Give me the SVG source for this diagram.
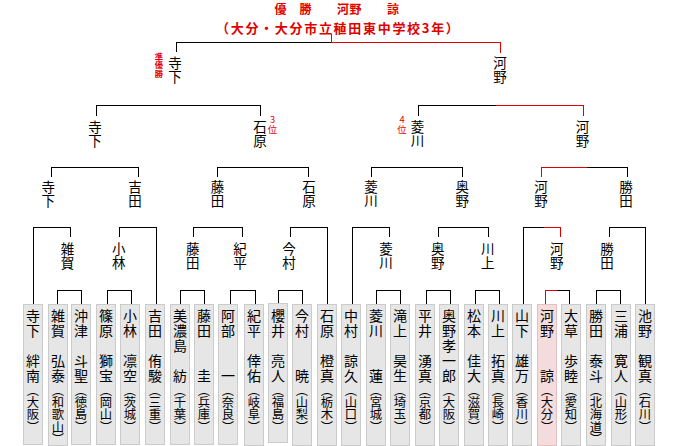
<svg xmlns="http://www.w3.org/2000/svg" width="680" height="446" viewBox="0 0 680 446">
<style>
.f{font-family:"Noto Sans CJK JP","Noto Sans CJK SC",sans-serif}
.t1{font-size:12px;font-weight:700;fill:#e00000;letter-spacing:0.5px}
.t2{font-size:13px;font-weight:700;fill:#e00000;letter-spacing:1.7px}
.v{writing-mode:vertical-rl}
.m{font-size:13.5px;fill:#000}
.n{font-size:14px;fill:#000}
.p{font-size:12.3px;fill:#000}
.r{font-size:8.3px;font-weight:700;fill:#e00000}
.rk{font-size:9.3px;fill:#e00000;text-orientation:upright}
.bx{fill:#e6e6e6;stroke:#cbcbcb;stroke-width:1}
.wb{fill:#f5dcdc;stroke:#e6c0c0;stroke-width:1}
.ln{fill:none;stroke:#000;stroke-width:1;shape-rendering:crispEdges}
.rl{fill:none;stroke:#e00000;stroke-width:1;shape-rendering:crispEdges}
</style>
<rect width="680" height="446" fill="#fff"/>
<g id="title" class="f">
<text class="t1" x="274.5" y="14.2">優　勝　　河野　　諒</text>
<text class="t2" x="216" y="32.6">（大分・大分市立稙田東中学校3年）</text>
</g>
<g id="connectors">
<path class="ln" d="M176.5 52V42.5H331.5"/>
<path class="rl" d="M331.5 34V42.5H500.5V53"/>
<path class="ln" d="M96.5 116V105.5H260.5V116"/>
<path class="ln" d="M418.5 116V105.5H495.5"/>
<path class="rl" d="M495.5 105.5H583.5V116"/>
<path class="ln" d="M51.5 177V167.5H138.5V177M217.5 177V167.5H308.5V177M371.5 177V167.5H462.5V177M586.5 167.5H627.5V177"/>
<path class="rl" d="M541.5 177V167.5H586.5"/>
<path class="ln" d="M33.5 304V227.5H70.5V237M119.5 237V227.5H156.5V304M193.5 237V227.5H242.5V237M290.5 237V227.5H327.5V304M352.5 304V227.5H389.5V237M438.5 237V227.5H488.5V237M523.5 304V227.5H543.5M609.5 237V227.5H645.5V304"/>
<path class="rl" d="M543.5 227.5H560.5V237"/>
<path class="ln" d="M57.5 304V290.5H81.5V304M107.5 304V290.5H131.5V304M180.5 304V290.5H204.5V304M230.5 304V290.5H255.5V304M278.5 303V290.5H302.5V304M376.5 304V290.5H400.5V304M426.5 304V290.5H450.5V304M475.5 304V290.5H499.5V304M556.5 290.5H569.5V304M596.5 304V290.5H620.5V304"/>
<path class="rl" d="M545.5 304V290.5H556.5"/>
</g>
<g id="w-final-terashita" class="f v"><text class="m" x="175" y="56.4">寺</text><text class="m" x="175" y="69.9">下</text><text class="r" x="159" y="52.9">準</text><text class="r" x="159" y="61.2">優</text><text class="r" x="159" y="69.5">勝</text></g>
<g id="w-final-kawano" class="f v"><text class="m" x="500" y="56.4">河</text><text class="m" x="500" y="69.9">野</text></g>
<g id="w-sf-terashita" class="f v"><text class="m" x="95" y="120.4">寺</text><text class="m" x="95" y="133.9">下</text></g>
<g id="w-sf-ishihara" class="f v"><text class="m" x="260" y="120.4">石</text><text class="m" x="260" y="133.9">原</text><text class="rk" x="272.5" y="115.3">3</text><text class="rk" x="272.5" y="124.6">位</text></g>
<g id="w-sf-hishikawa" class="f v"><text class="m" x="417.5" y="120.4">菱</text><text class="m" x="417.5" y="133.9">川</text><text class="rk" x="402" y="115.3">4</text><text class="rk" x="402" y="124.6">位</text></g>
<g id="w-sf-kawano" class="f v"><text class="m" x="582.5" y="120.4">河</text><text class="m" x="582.5" y="133.9">野</text></g>
<g id="w-qf-terashita" class="f v"><text class="m" x="48.3" y="180.4">寺</text><text class="m" x="48.3" y="193.9">下</text></g>
<g id="w-qf-yoshida" class="f v"><text class="m" x="135" y="180.4">吉</text><text class="m" x="135" y="193.9">田</text></g>
<g id="w-qf-fujita" class="f v"><text class="m" x="217.5" y="180.4">藤</text><text class="m" x="217.5" y="193.9">田</text></g>
<g id="w-qf-ishihara" class="f v"><text class="m" x="309" y="180.4">石</text><text class="m" x="309" y="193.9">原</text></g>
<g id="w-qf-hishikawa" class="f v"><text class="m" x="371" y="180.4">菱</text><text class="m" x="371" y="193.9">川</text></g>
<g id="w-qf-okuno" class="f v"><text class="m" x="462.3" y="180.4">奥</text><text class="m" x="462.3" y="193.9">野</text></g>
<g id="w-qf-kawano" class="f v"><text class="m" x="541" y="180.4">河</text><text class="m" x="541" y="193.9">野</text></g>
<g id="w-qf-katsuta" class="f v"><text class="m" x="626" y="180.4">勝</text><text class="m" x="626" y="193.9">田</text></g>
<g id="w-r2-saiga" class="f v"><text class="m" x="67.5" y="242.4">雑</text><text class="m" x="67.5" y="255.9">賀</text></g>
<g id="w-r2-kobayashi" class="f v"><text class="m" x="118.7" y="242.4">小</text><text class="m" x="118.7" y="255.9">林</text></g>
<g id="w-r2-fujita" class="f v"><text class="m" x="192.7" y="242.4">藤</text><text class="m" x="192.7" y="255.9">田</text></g>
<g id="w-r2-kihira" class="f v"><text class="m" x="240" y="242.4">紀</text><text class="m" x="240" y="255.9">平</text></g>
<g id="w-r2-imamura" class="f v"><text class="m" x="289" y="242.4">今</text><text class="m" x="289" y="255.9">村</text></g>
<g id="w-r2-hishikawa" class="f v"><text class="m" x="386" y="242.4">菱</text><text class="m" x="386" y="255.9">川</text></g>
<g id="w-r2-okuno" class="f v"><text class="m" x="437.7" y="242.4">奥</text><text class="m" x="437.7" y="255.9">野</text></g>
<g id="w-r2-kawakami" class="f v"><text class="m" x="487.7" y="242.4">川</text><text class="m" x="487.7" y="255.9">上</text></g>
<g id="w-r2-kawano" class="f v"><text class="m" x="556.7" y="242.4">河</text><text class="m" x="556.7" y="255.9">野</text></g>
<g id="w-r2-katsuta" class="f v"><text class="m" x="607" y="242.4">勝</text><text class="m" x="607" y="255.9">田</text></g>
<g id="e01" class="f v"><rect class="bx" x="23.5" y="304.5" width="19" height="140"/><text class="n" x="33" y="308.7">寺</text><text class="n" x="33" y="323.7">下</text><text class="n" x="33" y="354">絆</text><text class="n" x="33" y="369">南</text><text class="p" x="33" y="384">（大阪）</text></g>
<g id="e02" class="f v"><rect class="bx" x="48.5" y="304.5" width="19" height="141"/><text class="n" x="58" y="308.7">雑</text><text class="n" x="58" y="323.7">賀</text><text class="n" x="58" y="354">弘</text><text class="n" x="58" y="369">泰</text><text class="p" x="58" y="384">（和歌山）</text></g>
<g id="e03" class="f v"><rect class="bx" x="71.5" y="304.5" width="19" height="140"/><text class="n" x="81" y="308.7">沖</text><text class="n" x="81" y="323.7">津</text><text class="n" x="81" y="354">斗</text><text class="n" x="81" y="369">聖</text><text class="p" x="81" y="384">（徳島）</text></g>
<g id="e04" class="f v"><rect class="bx" x="96.5" y="304.5" width="19" height="140"/><text class="n" x="106" y="308.7">篠</text><text class="n" x="106" y="323.7">原</text><text class="n" x="106" y="354">獅</text><text class="n" x="106" y="369">宝</text><text class="p" x="106" y="384">（岡山）</text></g>
<g id="e05" class="f v"><rect class="bx" x="120.5" y="304.5" width="19" height="140"/><text class="n" x="130" y="308.7">小</text><text class="n" x="130" y="323.7">林</text><text class="n" x="130" y="354">凛</text><text class="n" x="130" y="369">空</text><text class="p" x="130" y="384">（茨城）</text></g>
<g id="e06" class="f v"><rect class="bx" x="145.5" y="304.5" width="19" height="140"/><text class="n" x="155" y="308.7">吉</text><text class="n" x="155" y="323.7">田</text><text class="n" x="155" y="354">侑</text><text class="n" x="155" y="369">駿</text><text class="p" x="155" y="384">（三重）</text></g>
<g id="e07" class="f v"><rect class="bx" x="170.5" y="304.5" width="19" height="140"/><text class="n" x="180" y="308.7">美</text><text class="n" x="180" y="323.7">濃</text><text class="n" x="180" y="338.7">島</text><text class="n" x="180" y="369">紡</text><text class="p" x="180" y="384">（千葉）</text></g>
<g id="e08" class="f v"><rect class="bx" x="194.5" y="304.5" width="19" height="140"/><text class="n" x="204" y="308.7">藤</text><text class="n" x="204" y="323.7">田</text><text class="n" x="204" y="369">圭</text><text class="p" x="204" y="384">（兵庫）</text></g>
<g id="e09" class="f v"><rect class="bx" x="218.5" y="304.5" width="19" height="140"/><text class="n" x="228" y="308.7">阿</text><text class="n" x="228" y="323.7">部</text><text class="n" x="228" y="369">一</text><text class="p" x="228" y="384">（奈良）</text></g>
<g id="e10" class="f v"><rect class="bx" x="244.5" y="304.5" width="19" height="141"/><text class="n" x="254" y="308.7">紀</text><text class="n" x="254" y="323.7">平</text><text class="n" x="254" y="354">倖</text><text class="n" x="254" y="369">佑</text><text class="p" x="254" y="384">（岐阜）</text></g>
<g id="e11" class="f v"><rect class="bx" x="268.5" y="303.5" width="19" height="139"/><text class="n" x="278" y="308.7">櫻</text><text class="n" x="278" y="323.7">井</text><text class="n" x="278" y="354">亮</text><text class="n" x="278" y="369">人</text><text class="p" x="278" y="384">（福島）</text></g>
<g id="e12" class="f v"><rect class="bx" x="292.5" y="304.5" width="19" height="141"/><text class="n" x="302" y="308.7">今</text><text class="n" x="302" y="323.7">村</text><text class="n" x="302" y="369">暁</text><text class="p" x="302" y="384">（山梨）</text></g>
<g id="e13" class="f v"><rect class="bx" x="317.5" y="304.5" width="19" height="141"/><text class="n" x="327" y="308.7">石</text><text class="n" x="327" y="323.7">原</text><text class="n" x="327" y="354">橙</text><text class="n" x="327" y="369">真</text><text class="p" x="327" y="384">（栃木）</text></g>
<g id="e14" class="f v"><rect class="bx" x="341.5" y="304.5" width="19" height="141"/><text class="n" x="351" y="308.7">中</text><text class="n" x="351" y="323.7">村</text><text class="n" x="351" y="354">諒</text><text class="n" x="351" y="369">久</text><text class="p" x="351" y="384">（山口）</text></g>
<g id="e15" class="f v"><rect class="bx" x="366.5" y="304.5" width="19" height="141"/><text class="n" x="376" y="308.7">菱</text><text class="n" x="376" y="323.7">川</text><text class="n" x="376" y="369">蓮</text><text class="p" x="376" y="384">（宮城）</text></g>
<g id="e16" class="f v"><rect class="bx" x="390.5" y="304.5" width="19" height="141"/><text class="n" x="400" y="308.7">滝</text><text class="n" x="400" y="323.7">上</text><text class="n" x="400" y="354">昊</text><text class="n" x="400" y="369">生</text><text class="p" x="400" y="384">（埼玉）</text></g>
<g id="e17" class="f v"><rect class="bx" x="415.5" y="304.5" width="19" height="141"/><text class="n" x="425" y="308.7">平</text><text class="n" x="425" y="323.7">井</text><text class="n" x="425" y="354">湧</text><text class="n" x="425" y="369">真</text><text class="p" x="425" y="384">（京都）</text></g>
<g id="e18" class="f v"><rect class="bx" x="439.5" y="304.5" width="19" height="141"/><text class="n" x="449" y="308.7">奥</text><text class="n" x="449" y="323.7">野</text><text class="n" x="449" y="338.7">孝</text><text class="n" x="449" y="354">一</text><text class="n" x="449" y="369">郎</text><text class="p" x="449" y="384">（大阪）</text></g>
<g id="e19" class="f v"><rect class="bx" x="464.5" y="304.5" width="19" height="141"/><text class="n" x="474" y="308.7">松</text><text class="n" x="474" y="323.7">本</text><text class="n" x="474" y="354">佳</text><text class="n" x="474" y="369">大</text><text class="p" x="474" y="384">（滋賀）</text></g>
<g id="e20" class="f v"><rect class="bx" x="488.5" y="304.5" width="19" height="141"/><text class="n" x="498" y="308.7">川</text><text class="n" x="498" y="323.7">上</text><text class="n" x="498" y="354">拓</text><text class="n" x="498" y="369">真</text><text class="p" x="498" y="384">（長崎）</text></g>
<g id="e21" class="f v"><rect class="bx" x="512.5" y="304.5" width="19" height="141"/><text class="n" x="522" y="308.7">山</text><text class="n" x="522" y="323.7">下</text><text class="n" x="522" y="354">雄</text><text class="n" x="522" y="369">万</text><text class="p" x="522" y="384">（香川）</text></g>
<g id="e22" class="f v"><rect class="wb" x="537.5" y="304.5" width="19" height="141"/><text class="n" x="547" y="308.7">河</text><text class="n" x="547" y="323.7">野</text><text class="n" x="547" y="369">諒</text><text class="p" x="547" y="384">（大分）</text></g>
<g id="e23" class="f v"><rect class="bx" x="561.5" y="304.5" width="19" height="141"/><text class="n" x="571" y="308.7">大</text><text class="n" x="571" y="323.7">草</text><text class="n" x="571" y="354">歩</text><text class="n" x="571" y="369">睦</text><text class="p" x="571" y="384">（愛知）</text></g>
<g id="e24" class="f v"><rect class="bx" x="586.5" y="304.5" width="19" height="141"/><text class="n" x="596" y="308.7">勝</text><text class="n" x="596" y="323.7">田</text><text class="n" x="596" y="354">泰</text><text class="n" x="596" y="369">斗</text><text class="p" x="596" y="384">（北海道）</text></g>
<g id="e25" class="f v"><rect class="bx" x="611.5" y="304.5" width="19" height="141"/><text class="n" x="621" y="308.7">三</text><text class="n" x="621" y="323.7">浦</text><text class="n" x="621" y="354">寛</text><text class="n" x="621" y="369">人</text><text class="p" x="621" y="384">（山形）</text></g>
<g id="e26" class="f v"><rect class="bx" x="635.5" y="304.5" width="19" height="141"/><text class="n" x="645" y="308.7">池</text><text class="n" x="645" y="323.7">野</text><text class="n" x="645" y="354">観</text><text class="n" x="645" y="369">真</text><text class="p" x="645" y="384">（石川）</text></g>
</svg>
